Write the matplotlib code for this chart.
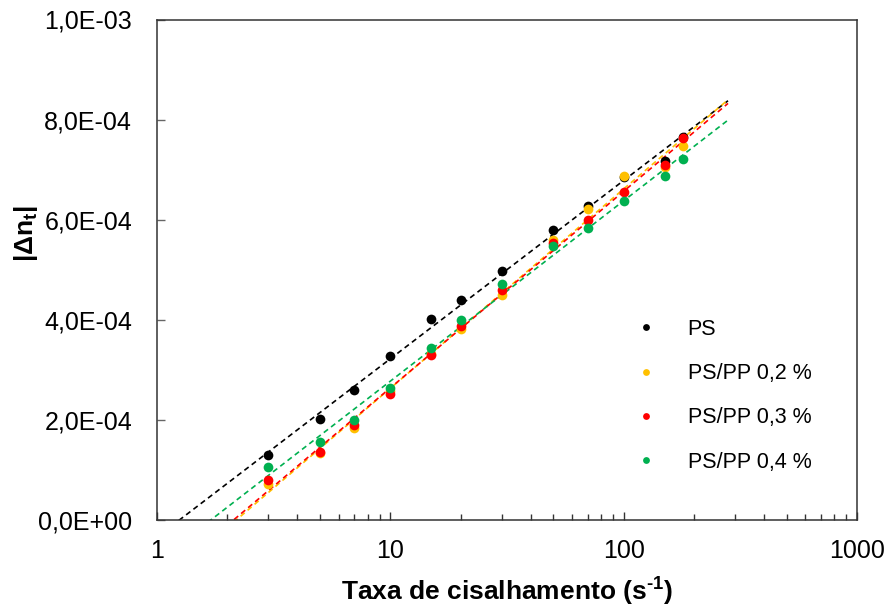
#birefringence vs shear rate, PS and PS/PP blends
import numpy as np
import matplotlib
matplotlib.use("Agg")
import matplotlib.pyplot as plt
from matplotlib.ticker import FuncFormatter, LogLocator, NullFormatter

plt.rcParams['font.family'] = ['Liberation Sans', 'DejaVu Sans']
plt.rcParams['mathtext.fontset'] = 'custom'
plt.rcParams['mathtext.rm'] = 'Liberation Sans:bold'
plt.rcParams['mathtext.bf'] = 'Liberation Sans:bold'

shear = [3, 5, 7, 10, 15, 20, 30, 50, 70, 100, 150, 180]  # s^-1
ps = [1.29, 2.01, 2.60, 3.27, 4.01, 4.39, 4.98, 5.79, 6.27, 6.86, 7.17, 7.65]
pp02 = [0.72, 1.34, 1.83, 2.57, 3.31, 3.81, 4.50, 5.60, 6.21, 6.88, 7.05, 7.47]
pp03 = [0.79, 1.36, 1.89, 2.51, 3.29, 3.87, 4.60, 5.53, 6.00, 6.55, 7.10, 7.63]
pp04 = [1.05, 1.55, 1.99, 2.64, 3.43, 4.00, 4.71, 5.47, 5.83, 6.37, 6.88, 7.21]
series = [ps, pp02, pp03, pp04]  # in units of 1e-4
labels = ["PS", "PS/PP 0,2 %", "PS/PP 0,3 %", "PS/PP 0,4 %"]
colors = ["#000000", "#FFC000", "#FF0000", "#00B050"]

fig = plt.figure(figsize=(8.9, 6.06), dpi=100)
ax = fig.add_axes([157/890, 86/606, 700/890, 500.5/606])

x = np.array(shear, dtype=float)
xfit = np.logspace(0, np.log10(280), 200)  # trendline extended like excel forecast
for vals, lab, c in zip(series, labels, colors):
    y = np.array(vals) * 1e-4
    a, b = np.polyfit(np.log10(x), y, 1)  # logarithmic trendline
    ax.plot(xfit, a*np.log10(xfit) + b, color=c, lw=1.2, dashes=(3.2, 2.3), zorder=2)
for vals, lab, c in zip(series, labels, colors):
    y = np.array(vals) * 1e-4
    ax.plot(x, y, 'o', color=c, ms=7, mec='none', label=lab, zorder=3)

ax.set_xscale('log')
ax.set_xlim(1, 1000)
ax.set_ylim(0, 1e-3)
ax.set_xticks([1, 10, 100, 1000])
ax.set_xticklabels(["1", "10", "100", "1000"])
ax.xaxis.set_minor_locator(LogLocator(base=10, subs=np.arange(2, 10)))
ax.xaxis.set_minor_formatter(NullFormatter())
ax.set_yticks(np.arange(0, 1.01e-3, 2e-4))
ax.yaxis.set_major_formatter(FuncFormatter(lambda v, p: f"{v:.1E}".replace('.', ',')))

ax.tick_params(axis='x', which='major', direction='in', length=6, width=1, colors='#333333', labelsize=18, labelcolor='black', pad=14)
ax.tick_params(axis='x', which='minor', direction='in', length=4.5, width=1, colors='#333333')
ax.tick_params(axis='y', which='major', direction='in', length=6, width=1, colors='#666666', labelsize=18, labelcolor='black', pad=18)
for s in ax.spines.values():
    s.set_color('#333333')
    s.set_linewidth(1.1)

ax.set_xlabel(r"Taxa de cisalhamento (s$^{\text{-}1}$)", fontsize=19, fontweight='bold', labelpad=8)
ax.set_ylabel(r"$\mathbf{|\Delta n_t|}$", fontsize=19)
ax.yaxis.set_label_coords(-0.187, 0.573)
ax.yaxis.label.set_verticalalignment('center')

ax.legend(loc='upper left', bbox_to_anchor=(635/890, 1 - 319/606), bbox_transform=fig.transFigure,
          frameon=False, fontsize=15.5, markerscale=0.7, handlelength=1.0, handletextpad=1.45,
          labelspacing=1.08, borderpad=0, borderaxespad=0)

fig.savefig("out.png", dpi=100)
